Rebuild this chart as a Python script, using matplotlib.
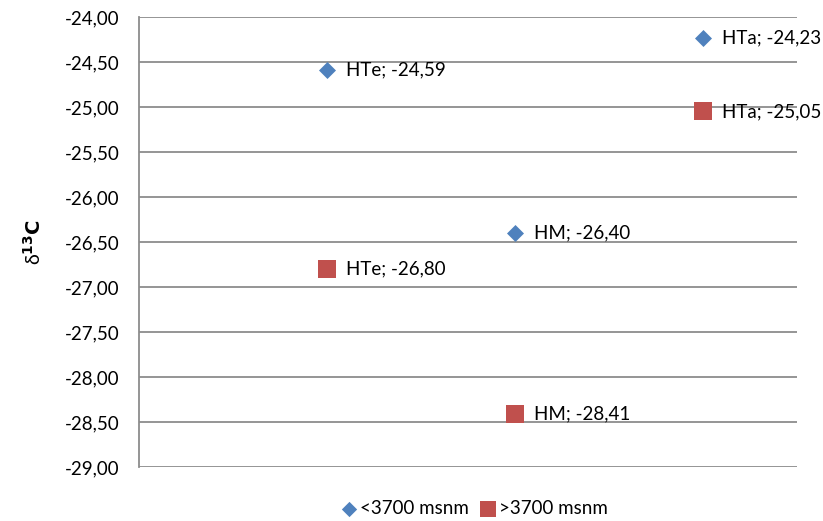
import matplotlib
matplotlib.use("Agg")
import matplotlib.pyplot as plt
from matplotlib.ticker import FuncFormatter, MultipleLocator

plt.rcParams['font.family'] = ['Lato', 'DejaVu Sans']

categories = ["HTe", "HM", "HTa"]
x_pos = [1, 2, 3]
low_vals = [-24.59, -26.40, -24.23]    # <3700 msnm
high_vals = [-26.80, -28.41, -25.05]   # >3700 msnm
series_names = ["<3700 msnm", ">3700 msnm"]

blue = "#4F81BD"
red = "#C0504D"
grid_c = "#8C8C8C"
FS = 13.5

fig = plt.figure(figsize=(8.23, 5.21), dpi=100)
ax = fig.add_axes([0.1689, 0.1036, 0.7995, 0.8638])

ax.scatter(x_pos, low_vals, marker="D", s=75, color=blue, label=series_names[0], zorder=3, linewidths=0)
ax.scatter(x_pos, high_vals, marker="s", s=150, color=red, label=series_names[1], zorder=3, linewidths=0)

def fmt(v):
    return f"{v:.2f}".replace(".", ",")

for xi, c, v in zip(x_pos, categories, low_vals):
    ax.annotate(f"{c}; {fmt(v)}", (xi, v), xytext=(14, 0), textcoords="offset points",
                va="center", ha="left", fontsize=FS, color="black")
for xi, c, v in zip(x_pos, categories, high_vals):
    ax.annotate(f"{c}; {fmt(v)}", (xi, v), xytext=(14, 0), textcoords="offset points",
                va="center", ha="left", fontsize=FS, color="black")

ax.set_xlim(0, 3.5)
ax.set_ylim(-29, -24)
ax.yaxis.set_major_locator(MultipleLocator(0.5))
ax.yaxis.set_major_formatter(FuncFormatter(lambda v, p: fmt(v)))
ax.set_xticks([])
ax.grid(axis="y", color=grid_c, linewidth=1.3)
ax.set_axisbelow(True)
for s in ["top", "right", "bottom"]:
    ax.spines[s].set_visible(False)
ax.spines["left"].set_color(grid_c)
ax.spines["left"].set_linewidth(1.3)
ax.tick_params(axis="y", length=0, pad=14, labelsize=FS)

ax.set_ylabel("δ$^{\\mathbf{13}}$$\\mathbf{C}$", fontsize=14, labelpad=15)

leg = fig.legend(loc="lower center", bbox_to_anchor=(0.577, -0.025), ncol=2, frameon=False,
                 fontsize=FS, handletextpad=0.2, handlelength=0.8, columnspacing=0.6,
                 markerscale=0.9)

fig.savefig("out.png", dpi=100)
